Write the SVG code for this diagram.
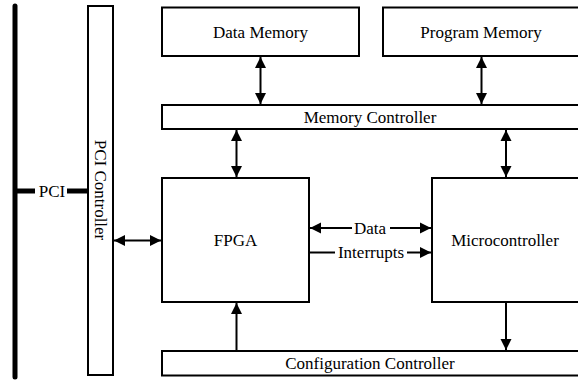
<svg xmlns="http://www.w3.org/2000/svg" width="578" height="384" viewBox="0 0 578 384">
<style>
.box{fill:#fff;stroke:#000;stroke-width:2}
.t{font-family:'Liberation Serif','DejaVu Serif',serif;font-size:17px;fill:#000;text-anchor:middle}
.ln{stroke:#000;stroke-width:2;fill:none}
.bus{stroke:#000;stroke-width:5;fill:none}
</style>
<defs>
<marker id="ah" markerUnits="userSpaceOnUse" markerWidth="12" markerHeight="12" viewBox="0 0 12 12" refX="11" refY="6" orient="auto-start-reverse">
<path d="M0,0.5 L11,6 L0,11.5 Z" fill="#000"/>
</marker>
</defs>
<g id="connectors">
<line class="bus" x1="15" y1="6" x2="15" y2="377" stroke-linecap="round"/>
<line class="bus" x1="15" y1="191" x2="35" y2="191"/>
<line class="bus" x1="67" y1="191" x2="88" y2="191"/>
<text class="t" x="52" y="196.5" font-family="Liberation Serif, serif">PCI</text>
<line class="ln" x1="114" y1="240.5" x2="161" y2="240.5" marker-start="url(#ah)" marker-end="url(#ah)"/>
<line class="ln" x1="260.5" y1="57" x2="260.5" y2="104" marker-start="url(#ah)" marker-end="url(#ah)"/>
<line class="ln" x1="481.5" y1="57" x2="481.5" y2="104" marker-start="url(#ah)" marker-end="url(#ah)"/>
<line class="ln" x1="236.5" y1="130" x2="236.5" y2="177" marker-start="url(#ah)" marker-end="url(#ah)"/>
<line class="ln" x1="506" y1="130" x2="506" y2="177" marker-start="url(#ah)" marker-end="url(#ah)"/>
<line class="ln" x1="310" y1="228" x2="352" y2="228" marker-start="url(#ah)"/>
<line class="ln" x1="390" y1="228" x2="431" y2="228" marker-end="url(#ah)"/>
<text class="t" x="370" y="233.5">Data</text>
<line class="ln" x1="310" y1="252.5" x2="335" y2="252.5"/>
<line class="ln" x1="407" y1="252.5" x2="431" y2="252.5" marker-end="url(#ah)"/>
<text class="t" x="371" y="258">Interrupts</text>
<line class="ln" x1="236.5" y1="350" x2="236.5" y2="303" marker-end="url(#ah)"/>
<line class="ln" x1="506" y1="303" x2="506" y2="350" marker-end="url(#ah)"/>
</g>
<g id="pci-controller">
<rect class="box" x="88" y="6" width="25" height="369"/>
<text class="t" transform="translate(100,190) rotate(90)" x="0" y="5.5">PCI Controller</text>
</g>
<g id="data-memory">
<rect class="box" x="162" y="7.5" width="197" height="48.5"/>
<text class="t" x="260.5" y="37.5">Data Memory</text>
</g>
<g id="program-memory">
<rect class="box" x="383" y="7.5" width="197" height="48.5"/>
<text class="t" x="481" y="37.5">Program Memory</text>
</g>
<g id="memory-controller">
<rect class="box" x="162" y="105" width="418" height="24"/>
<text class="t" x="370" y="122.5">Memory Controller</text>
</g>
<g id="fpga">
<rect class="box" x="162" y="178" width="147" height="124"/>
<text class="t" x="235.5" y="245.5">FPGA</text>
</g>
<g id="microcontroller">
<rect class="box" x="432" y="178" width="148" height="124"/>
<text class="t" x="505" y="245.5">Microcontroller</text>
</g>
<g id="configuration-controller">
<rect class="box" x="162" y="351" width="418" height="24.5"/>
<text class="t" x="370" y="368.5">Configuration Controller</text>
</g>
</svg>
